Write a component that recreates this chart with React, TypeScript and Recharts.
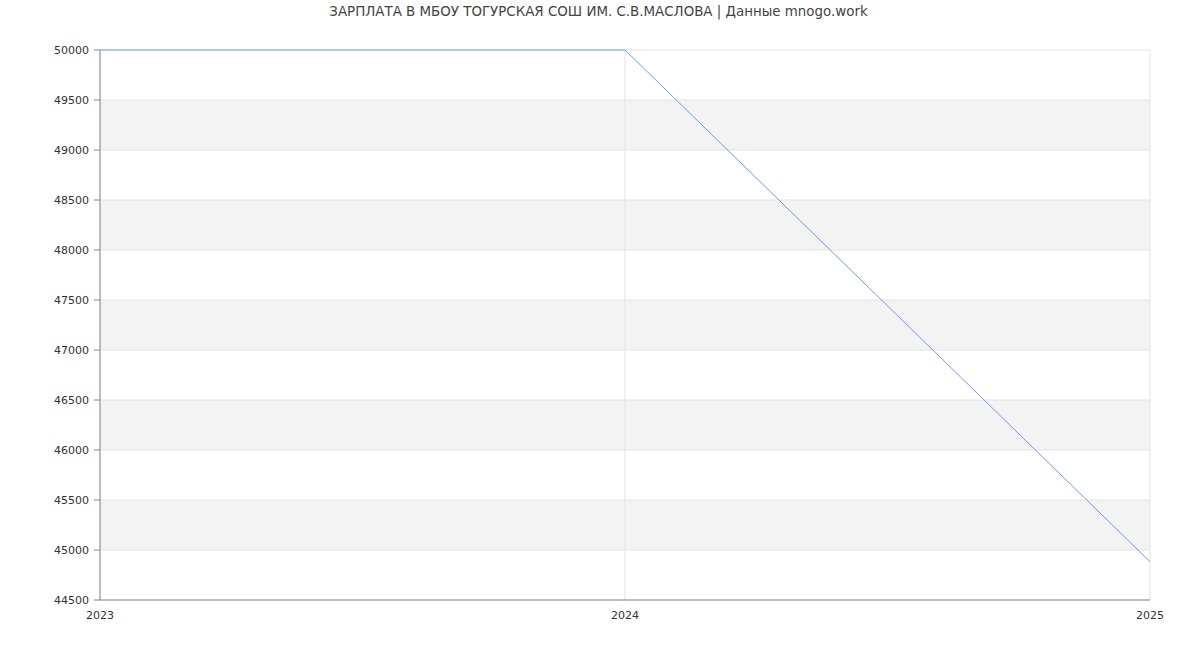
import { LineChart, Line, XAxis, YAxis, CartesianGrid } from 'recharts';

const years = [2023, 2024, 2025];
const salaries = [50000, 50000, 44883];
const yTicks = [44500, 45000, 45500, 46000, 46500, 47000, 47500, 48000, 48500, 49000, 49500, 50000];

const title = 'ЗАРПЛАТА В МБОУ ТОГУРСКАЯ СОШ ИМ. С.В.МАСЛОВА | Данные mnogo.work';

const data = years.map((year, i) => ({ year, salary: salaries[i] }));

export default function App() {
  const font = 'DejaVu Sans, sans-serif';
  return (
    <div style={{ position: 'absolute', left: 0, top: 0, width: 1200, height: 650, background: '#fff', fontFamily: font }}>
      <div
        style={{
          position: 'absolute',
          top: 4,
          left: 0,
          width: 1197,
          textAlign: 'center',
          fontSize: 13.4,
          color: '#444',
        }}
      >
        {title}
      </div>
      <LineChart
        width={1200}
        height={650}
        data={data}
        margin={{ top: 50, right: 50, bottom: 20, left: 0 }}
      >
        <CartesianGrid
          stroke="#e3e3e3"
          horizontalFill={['#ffffff', '#f3f3f3']}
          fillOpacity={1}
        />
        <XAxis
          dataKey="year"
          type="number"
          domain={[2023, 2025]}
          ticks={years}
          tickLine={false}
          axisLine={{ stroke: '#888' }}
          tick={{ fill: '#333', fontSize: 11, fontFamily: font }}
          tickMargin={5}
          height={30}
        />
        <YAxis
          domain={[44500, 50000]}
          ticks={yTicks}
          width={100}
          interval={0}
          axisLine={{ stroke: '#888' }}
          tickLine={{ stroke: '#888' }}
          tickSize={6}
          tickMargin={5}
          tick={{ fill: '#333', fontSize: 11, fontFamily: font }}
        />
        <Line
          type="linear"
          dataKey="salary"
          stroke="#6b9bf0"
          strokeWidth={1}
          dot={false}
          isAnimationActive={false}
        />
      </LineChart>
    </div>
  );
}
